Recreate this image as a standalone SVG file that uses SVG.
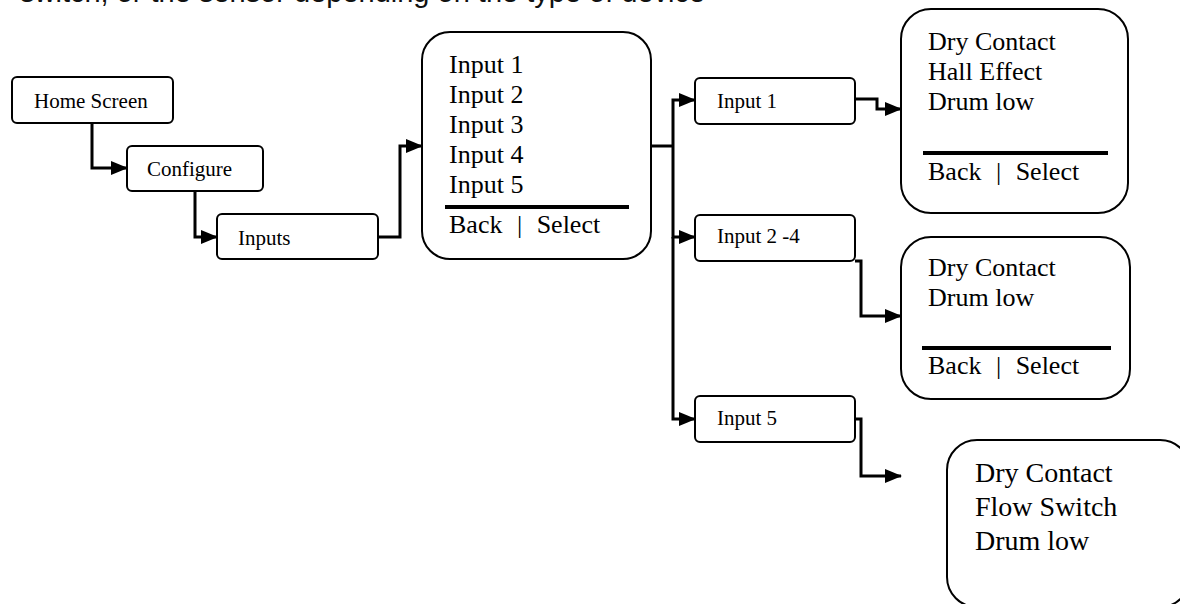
<svg xmlns="http://www.w3.org/2000/svg" width="1180" height="604" viewBox="0 0 1180 604">
<style>
.bx{fill:#fff;stroke:#000;stroke-width:2}
.sm{font-family:"Liberation Serif","Times New Roman",serif;font-size:21px;fill:#000}
.lg{font-family:"Liberation Serif","Times New Roman",serif;font-size:26px;fill:#000}
.xl{font-family:"Liberation Serif","Times New Roman",serif;font-size:28px;fill:#000}
.bar{stroke:#000;stroke-width:4}
.cn{fill:none;stroke:#000;stroke-width:3}
.bs{word-spacing:8px}
</style>
<defs>
<marker id="ah" markerUnits="userSpaceOnUse" markerWidth="17" markerHeight="14" refX="16" refY="7" orient="auto">
<path d="M0,0 L17,7 L0,14 z" fill="#000"/>
</marker>
</defs>
<rect width="1180" height="604" fill="#fff"/>
<text x="20" y="2" font-family="Liberation Sans, Arial, sans-serif" font-size="29" fill="#111">switch, or the sensor depending on the type of device</text>

<g id="connectors">
<path class="cn" d="M92,123 V168 H127" marker-end="url(#ah)"/>
<path class="cn" d="M195,191 V237 H217" marker-end="url(#ah)"/>
<path class="cn" d="M378,237 H400 V146 H422" marker-end="url(#ah)"/>
<path class="cn" d="M651,146 H673"/>
<path class="cn" d="M673,146 V100 H695" marker-end="url(#ah)"/>
<path class="cn" d="M673,146 V237 H695" marker-end="url(#ah)"/>
<path class="cn" d="M673,237 V419 H695" marker-end="url(#ah)"/>
<path class="cn" d="M855,99 H877 V109 H901" marker-end="url(#ah)"/>
<path class="cn" d="M855,261 H861 V316 H901" marker-end="url(#ah)"/>
<path class="cn" d="M855,419 H861 V476 H901" marker-end="url(#ah)"/>
</g>

<g id="home-screen">
<rect class="bx" x="12" y="77" width="161" height="46" rx="5"/>
<text class="sm" x="34" y="108">Home Screen</text>
</g>
<g id="configure">
<rect class="bx" x="127" y="146" width="136" height="45" rx="5"/>
<text class="sm" x="147" y="176">Configure</text>
</g>
<g id="inputs">
<rect class="bx" x="217" y="214" width="161" height="45" rx="5"/>
<text class="sm" x="238" y="245">Inputs</text>
</g>
<g id="inputs-menu">
<rect class="bx" x="422" y="32" width="229" height="227" rx="28"/>
<text class="lg" x="449" y="73">Input 1</text>
<text class="lg" x="449" y="103">Input 2</text>
<text class="lg" x="449" y="133">Input 3</text>
<text class="lg" x="449" y="163">Input 4</text>
<text class="lg" x="449" y="193">Input 5</text>
<line class="bar" x1="445" y1="207" x2="629" y2="207"/>
<text class="lg bs" x="449" y="233">Back | Select</text>
</g>
<g id="input-1">
<rect class="bx" x="695" y="78" width="160" height="46" rx="5"/>
<text class="sm" x="717" y="108">Input 1</text>
</g>
<g id="input-2-4">
<rect class="bx" x="695" y="215" width="160" height="46" rx="5"/>
<text class="sm" x="717" y="243">Input 2 -4</text>
</g>
<g id="input-5">
<rect class="bx" x="695" y="396" width="160" height="46" rx="5"/>
<text class="sm" x="717" y="425">Input 5</text>
</g>
<g id="input-1-options">
<rect class="bx" x="901" y="9" width="227" height="204" rx="30"/>
<text class="lg" x="928" y="50">Dry Contact</text>
<text class="lg" x="928" y="80">Hall Effect</text>
<text class="lg" x="928" y="110">Drum low</text>
<line class="bar" x1="923" y1="153" x2="1108" y2="153"/>
<text class="lg bs" x="928" y="180">Back | Select</text>
</g>
<g id="input-2-4-options">
<rect class="bx" x="901" y="237" width="229" height="162" rx="30"/>
<text class="lg" x="928" y="276">Dry Contact</text>
<text class="lg" x="928" y="306">Drum low</text>
<line class="bar" x1="922" y1="348" x2="1111" y2="348"/>
<text class="lg bs" x="928" y="374">Back | Select</text>
</g>
<g id="input-5-options">
<rect class="bx" x="947" y="440" width="243" height="167" rx="30"/>
<text class="xl" x="975" y="482">Dry Contact</text>
<text class="xl" x="975" y="516">Flow Switch</text>
<text class="xl" x="975" y="550">Drum low</text>
</g>
</svg>
